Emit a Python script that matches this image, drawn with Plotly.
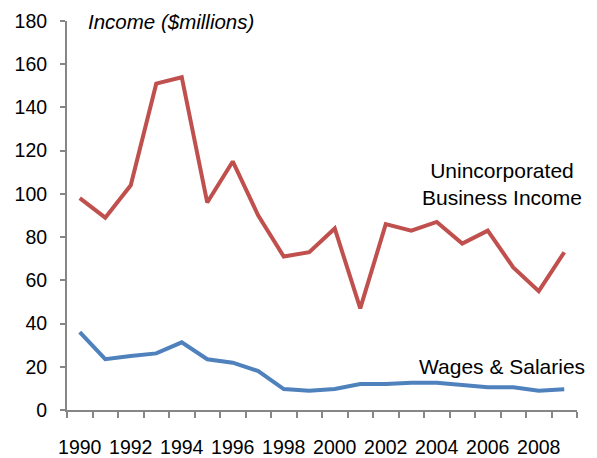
import plotly.graph_objects as go

years = list(range(1990, 2010))
business_income = [98, 89, 104, 151, 154, 96, 115, 90, 71, 73, 84, 47, 86, 83, 87, 77, 83, 66, 55, 73]
wages_salaries = [36, 23.5, 25, 26.2, 31.3, 23.5, 21.9, 18, 9.7, 8.9, 9.7, 12, 12, 12.6, 12.6, 11.4, 10.5, 10.5, 8.9, 9.6]
tick_years = list(range(1990, 2010, 2))
y_ticks = list(range(0, 181, 20))

RED = "#C0504D"
BLUE = "#4F81BD"
AXIS = "#868686"
FONT = "Liberation Sans, Arial, sans-serif"

fig = go.Figure()
fig.add_trace(go.Scatter(x=years, y=business_income, mode="lines",
                         line=dict(color=RED, width=4), showlegend=False))
fig.add_trace(go.Scatter(x=years, y=wages_salaries, mode="lines",
                         line=dict(color=BLUE, width=4), showlegend=False))

fig.update_layout(
    width=597, height=458,
    margin=dict(l=67, r=20, t=21, b=48),
    paper_bgcolor="white", plot_bgcolor="white",
    font=dict(family=FONT, size=19, color="#000000"),
)

fig.update_xaxes(
    range=[1989.5, 2009.5], automargin=False,
    tickmode="array", tickvals=tick_years, ticktext=[str(y) for y in tick_years],
    ticks="outside", ticklen=0, tickcolor="rgba(0,0,0,0)",
    ticklabelstandoff=19,
    minor=dict(ticks="outside", ticklen=6, tickcolor=AXIS, tickwidth=2,
               tick0=1989.5, dtick=1, showgrid=False),
    showline=True, linecolor=AXIS, linewidth=2,
    showgrid=False, zeroline=False,
    tickfont=dict(family=FONT, size=19.5),
)
fig.update_yaxes(
    range=[0, 180], automargin=False,
    tickmode="array", tickvals=y_ticks,
    ticks="outside", ticklen=5, tickcolor=AXIS, tickwidth=2,
    ticklabelstandoff=9,
    showline=True, linecolor=AXIS, linewidth=2,
    showgrid=False, zeroline=False,
    tickfont=dict(family=FONT, size=19.5),
)

fig.add_annotation(text="<i>Income ($millions)</i>", xref="paper", yref="paper",
                   x=(86 - 67) / 510, y=1.0, xanchor="left", yanchor="middle",
                   showarrow=False, font=dict(family=FONT, size=20.5))
fig.add_annotation(text="Unincorporated<br>Business Income", xref="paper", yref="y",
                   x=(502 - 67) / 510, y=(410 - 184) / 389 * 180,
                   xanchor="center", yanchor="middle", showarrow=False,
                   font=dict(family=FONT, size=21), align="center")
fig.add_annotation(text="Wages & Salaries", xref="paper", yref="y",
                   x=(587 - 67) / 510, y=(410 - 366) / 389 * 180,
                   xanchor="right", yanchor="middle", showarrow=False,
                   font=dict(family=FONT, size=21))

fig.write_html("out.html")
